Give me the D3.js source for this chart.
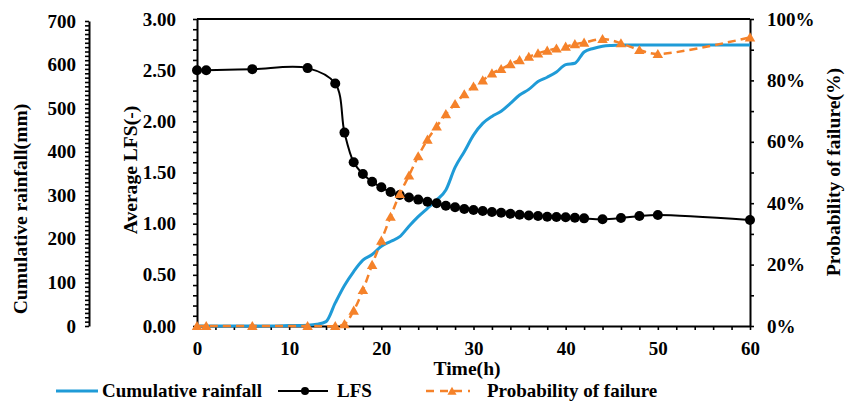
<!DOCTYPE html>
<html>
<head>
<meta charset="utf-8">
<script src="https://cdn.jsdelivr.net/npm/d3@7"></script>
<style>
    body { margin: 0; background: #fff; }
    svg text { font-family: "Liberation Serif", "Times New Roman", serif; font-weight: bold; font-size: 19px; fill: #000; }
    svg text.title { font-size: 19.6px; }
    .axis path, .axis line { stroke: #000; }
    .axis path { stroke-width: 2; }
    .axis line { stroke-width: 1.6; }
</style>
</head>
<body>
<div class="container"></div>
<script>
// LFS and probability of failure share the same time stamps
var lfsTime = [0, 1, 6, 12, 15, 16, 17, 18, 19, 20, 21, 22, 23, 24, 25, 26, 27, 28, 29, 30,
    31, 32, 33, 34, 35, 36, 37, 38, 39, 40, 41, 42, 44, 46, 48, 50, 60];
var lfsValues = [2.50, 2.50, 2.51, 2.52, 2.37, 1.89, 1.60, 1.485, 1.41, 1.355, 1.31, 1.28, 1.255, 1.235, 1.215, 1.20, 1.175, 1.16, 1.143, 1.134,
    1.124, 1.114, 1.107, 1.097, 1.088, 1.08, 1.075, 1.068, 1.065, 1.062, 1.058, 1.052, 1.043, 1.055, 1.075, 1.085, 1.036];
var failureValues = [0, 0, 0, 0, 0, 0.6, 5, 11.7, 19.9, 27.8, 35.6, 43, 49, 55.3, 60.7, 65, 69, 72.3, 75.5, 78,
    80, 82.3, 83.7, 85.3, 86.6, 87.7, 88.8, 89.7, 90.4, 91, 91.8, 92.3, 93.5, 92.1, 89.9, 88.6, 94];

var rainTime = [0, 2, 4, 6, 8, 10, 12, 13, 14, 15, 16, 17, 18, 19, 20, 21, 22, 23, 24, 25, 26, 27, 28, 29, 30,
    31, 32, 33, 34, 35, 36, 37, 38, 39, 40, 41, 42, 43, 44, 45, 46, 60];
var rainValues = [0, 0, 0, 0, 0, 1, 2, 4, 10, 53, 93, 125, 151, 164, 183, 194, 205, 229, 251, 270, 289, 312, 364, 400, 438,
    465, 481, 493, 511, 530, 543, 561, 571, 583, 600, 603, 629, 637, 642, 644, 645, 645];

var xTicks = d3.range(0, 61, 2);
var lfsTicks = d3.range(0, 31, 1).map(function (d) { return d / 10; });
var rainTicks = d3.range(0, 701, 10);
var failureTicks = d3.range(0, 101, 10);

var blue = "#1f9bd7", orange = "#f5822a";

var margin = { top: 19, right: 96, bottom: 79, left: 197 }
    , width = 846 - margin.left - margin.right
    , height = 405 - margin.top - margin.bottom;

var svg = d3.select(".container").append("svg")
    .attr("width", 846)
    .attr("height", 405);

var g = svg.append("g")
    .attr("transform", "translate(" + margin.left + "," + margin.top + ")");

var x = d3.scaleLinear().domain([0, 60]).range([0, width]);
var yLfs = d3.scaleLinear().domain([0, 3]).range([height, 0]);
var yFail = d3.scaleLinear().domain([0, 100]).range([height, 0]);
var yRain = d3.scaleLinear().domain([0, 700]).range([height, 2]);

// frame top
g.append("line")
    .attr("x1", 0).attr("x2", width)
    .attr("y1", 0).attr("y2", 0)
    .attr("stroke", "#000").attr("stroke-width", 2);

g.append("g")
    .attr("class", "axis")
    .attr("transform", "translate(0," + height + ")")
    .call(d3.axisBottom(x).tickValues(xTicks).tickSize(4).tickSizeOuter(0).tickPadding(12)
        .tickFormat(function (d) { return d % 10 === 0 ? d : ""; }));

g.append("g")
    .attr("class", "axis")
    .call(d3.axisLeft(yLfs).tickValues(lfsTicks).tickSize(4).tickSizeOuter(0).tickPadding(17)
        .tickFormat(function (d) { return Math.round(d * 10) % 5 === 0 ? d3.format(".2f")(d) : ""; }));

g.append("g")
    .attr("class", "axis")
    .attr("transform", "translate(" + width + ",0)")
    .call(d3.axisRight(yFail).tickValues(failureTicks).tickSize(4).tickSizeOuter(0).tickPadding(13)
        .tickFormat(function (d) { return d % 20 === 0 ? d + "%" : ""; }));

g.append("g")
    .attr("class", "axis")
    .attr("transform", "translate(-108,0)")
    .call(d3.axisLeft(yRain).tickValues(rainTicks).tickSize(4).tickSizeOuter(0).tickPadding(9)
        .tickFormat(function (d) { return d % 100 === 0 ? d : ""; }));

// series
var rainLine = d3.line()
    .x(function (d, i) { return x(rainTime[i]); })
    .y(function (d) { return yRain(d); })
    .curve(d3.curveMonotoneX);

var lfsLine = d3.line()
    .x(function (d, i) { return x(lfsTime[i]); })
    .y(function (d) { return yLfs(d); })
    .curve(d3.curveCatmullRom.alpha(0.5));

var failLine = d3.line()
    .x(function (d, i) { return x(lfsTime[i]); })
    .y(function (d) { return yFail(d); })
    .curve(d3.curveCatmullRom.alpha(0.5));

g.append("path")
    .datum(rainValues)
    .attr("fill", "none")
    .attr("stroke", blue)
    .attr("stroke-width", 3)
    .attr("d", rainLine);

g.append("path")
    .datum(lfsValues)
    .attr("fill", "none")
    .attr("stroke", "#000")
    .attr("stroke-width", 2)
    .attr("d", lfsLine);

g.append("g")
    .selectAll("circle")
    .data(lfsValues)
    .enter()
    .append("circle")
    .attr("cx", function (d, i) { return x(lfsTime[i]); })
    .attr("cy", function (d) { return yLfs(d); })
    .attr("r", 5)
    .attr("fill", "#000");

g.append("path")
    .datum(failureValues)
    .attr("fill", "none")
    .attr("stroke", orange)
    .attr("stroke-width", 2.5)
    .attr("stroke-dasharray", "8,5")
    .attr("d", failLine);

var tri = d3.symbol().type(d3.symbolTriangle).size(48);

g.append("g")
    .selectAll("path")
    .data(failureValues)
    .enter()
    .append("path")
    .attr("transform", function (d, i) { return "translate(" + x(lfsTime[i]) + "," + (yFail(d) + 1) + ")"; })
    .attr("d", tri)
    .attr("fill", orange);

// axis titles
svg.append("text")
    .attr("class", "title")
    .attr("transform", "translate(27,209) rotate(-90)")
    .attr("text-anchor", "middle")
    .text("Cumulative rainfall(mm)");

svg.append("text")
    .attr("class", "title")
    .attr("transform", "translate(137,170) rotate(-90)")
    .attr("text-anchor", "middle")
    .text("Average LFS(-)");

svg.append("text")
    .attr("class", "title")
    .attr("transform", "translate(840,172) rotate(-90)")
    .attr("text-anchor", "middle")
    .text("Probability of failure(%)");

svg.append("text")
    .attr("class", "title")
    .attr("x", 467).attr("y", 375)
    .attr("text-anchor", "middle")
    .text("Time(h)");

// legend
var legend = svg.append("g").attr("transform", "translate(0,391)");

legend.append("line")
    .attr("x1", 56).attr("x2", 98)
    .attr("stroke", blue).attr("stroke-width", 3);
legend.append("text").attr("x", 102).attr("y", 6).text("Cumulative rainfall");

legend.append("line")
    .attr("x1", 278).attr("x2", 328)
    .attr("stroke", "#000").attr("stroke-width", 2);
legend.append("circle").attr("cx", 305).attr("r", 4).attr("fill", "#000");
legend.append("text").attr("x", 337).attr("y", 6).text("LFS");

legend.append("line")
    .attr("x1", 426).attr("x2", 470)
    .attr("stroke", orange).attr("stroke-width", 2.5)
    .attr("stroke-dasharray", "8,6");
legend.append("path")
    .attr("transform", "translate(452,1)")
    .attr("d", d3.symbol().type(d3.symbolTriangle).size(36))
    .attr("fill", orange);
legend.append("text").attr("x", 487).attr("y", 6).text("Probability of failure");
</script>
</body>
</html>
